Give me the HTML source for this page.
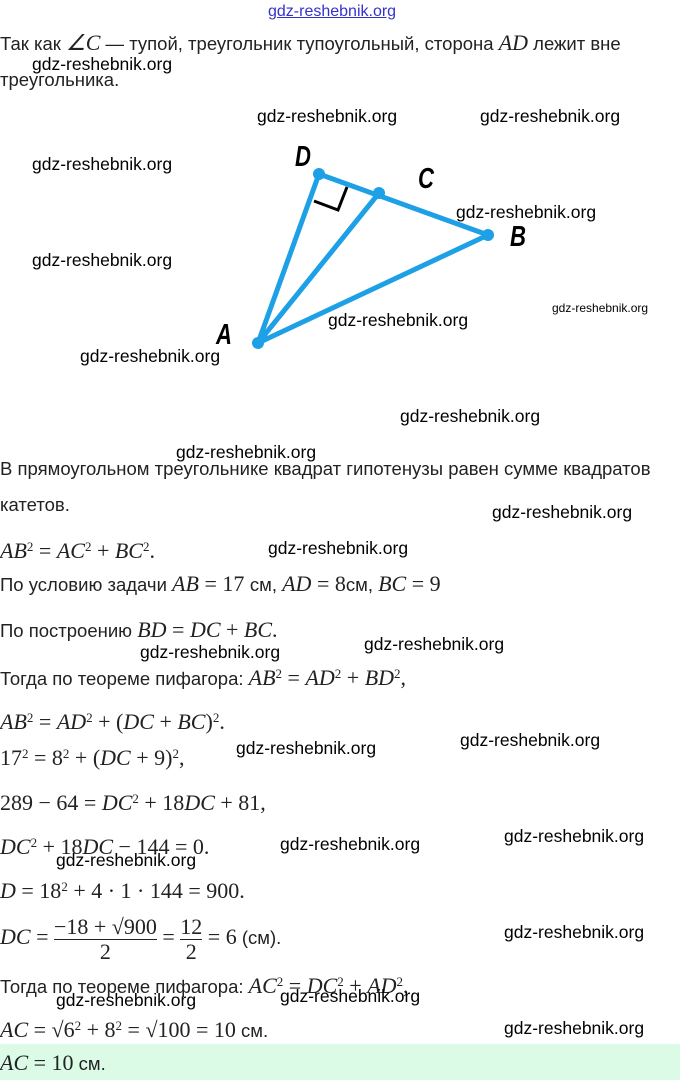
<!DOCTYPE html>
<html><head><meta charset="utf-8"><style>
body{margin:0;width:680px;height:1080px;background:#fff;position:relative;overflow:hidden;font-family:"Liberation Sans",sans-serif;color:#222}
.t{position:absolute;left:0;font-size:18.5px;white-space:nowrap;line-height:22px}
.w{position:absolute;font-size:17.5px;color:#000;white-space:nowrap;line-height:20px}
i,.m{font-family:"Liberation Serif",serif;font-size:22px}
i{font-style:italic}
sup{font-size:13px;font-family:"Liberation Serif",serif}
.g{position:absolute;left:0;top:1044px;width:680px;height:36px;background:#dbfbe7}
.fr{display:inline-block;vertical-align:middle;text-align:center;font-family:"Liberation Serif",serif;font-size:22px}
.fr span{display:block;line-height:24px}
.fr span:first-child{border-bottom:1px solid #222}
</style></head><body>
<div class="w" style="left:268px;top:2px;color:#33c;font-size:16px;text-decoration:underline">gdz-reshebnik.org</div>
<div class="t" style="top:32px">Так как <i>∠C</i> — тупой, треугольник тупоугольный, сторона <i>AD</i> лежит вне</div>
<div class="w" style="left:32px;top:54px">gdz-reshebnik.org</div>
<div class="t" style="top:69px">треугольника.</div>
<div class="w" style="left:257px;top:106px">gdz-reshebnik.org</div>
<div class="w" style="left:480px;top:106px">gdz-reshebnik.org</div>
<div class="w" style="left:32px;top:154px">gdz-reshebnik.org</div>
<div class="w" style="left:32px;top:250px">gdz-reshebnik.org</div>
<svg style="position:absolute;left:0;top:0" width="680" height="400">
<g stroke="#1ea0e6" stroke-width="5" stroke-linecap="round">
<line x1="319" y1="174" x2="488" y2="235"/><line x1="319" y1="174" x2="258" y2="343"/>
<line x1="379" y1="193" x2="258" y2="343"/><line x1="488" y1="235" x2="258" y2="343"/>
</g>
<g fill="#1ea0e6"><circle cx="319" cy="174" r="6"/><circle cx="379" cy="193" r="6"/><circle cx="488" cy="235" r="6"/><circle cx="258" cy="343" r="6"/></g>
<polyline points="314,201 338,210 347,187" fill="none" stroke="#000" stroke-width="3"/>
<g font-family="Liberation Sans" font-style="italic" font-weight="bold" font-size="26" fill="#000">
<text x="295" y="166" transform="translate(295 166) scale(0.85 1.1) translate(-295 -166)">D</text>
<text x="418" y="188" transform="translate(418 188) scale(0.85 1.1) translate(-418 -188)">C</text>
<text x="510" y="246" transform="translate(510 246) scale(0.85 1.1) translate(-510 -246)">B</text>
<text x="216" y="344" transform="translate(216 344) scale(0.85 1.1) translate(-216 -344)">A</text></g>
</svg>
<div class="w" style="left:456px;top:202px">gdz-reshebnik.org</div>
<div class="w" style="left:552px;top:298px;font-size:12px">gdz-reshebnik.org</div>
<div class="w" style="left:328px;top:310px">gdz-reshebnik.org</div>
<div class="w" style="left:80px;top:346px">gdz-reshebnik.org</div>
<div class="w" style="left:400px;top:406px">gdz-reshebnik.org</div>
<div class="w" style="left:176px;top:442px">gdz-reshebnik.org</div>
<div class="t" style="top:458px">В прямоугольном треугольнике квадрат гипотенузы равен сумме квадратов</div>
<div class="t" style="top:494px">катетов.</div>
<div class="w" style="left:492px;top:502px">gdz-reshebnik.org</div>
<div class="t" style="top:536px"><i>AB</i><sup>2</sup><span class="m"> = </span><i>AC</i><sup>2</sup><span class="m"> + </span><i>BC</i><sup>2</sup><span class="m">.</span></div>
<div class="w" style="left:268px;top:538px">gdz-reshebnik.org</div>
<div class="t" style="top:573px">По условию задачи <i>AB</i><span class="m"> = 17 </span>см, <i>AD</i><span class="m"> = 8</span>см, <i>BC</i><span class="m"> = 9</span></div>
<div class="t" style="top:619px">По построению <i>BD</i><span class="m"> = </span><i>DC</i><span class="m"> + </span><i>BC</i><span class="m">.</span></div>
<div class="w" style="left:364px;top:634px">gdz-reshebnik.org</div>
<div class="w" style="left:140px;top:642px">gdz-reshebnik.org</div>
<div class="t" style="top:663px">Тогда по теореме пифагора: <i>AB</i><sup>2</sup><span class="m"> = </span><i>AD</i><sup>2</sup><span class="m"> + </span><i>BD</i><sup>2</sup><span class="m">,</span></div>
<div class="t" style="top:707px"><i>AB</i><sup>2</sup><span class="m"> = </span><i>AD</i><sup>2</sup><span class="m"> + (</span><i>DC</i><span class="m"> + </span><i>BC</i><span class="m">)</span><sup>2</sup><span class="m">.</span></div>
<div class="t" style="top:743px"><span class="m">17</span><sup>2</sup><span class="m"> = 8</span><sup>2</sup><span class="m"> + (</span><i>DC</i><span class="m"> + 9)</span><sup>2</sup><span class="m">,</span></div>
<div class="w" style="left:236px;top:738px">gdz-reshebnik.org</div>
<div class="w" style="left:460px;top:730px">gdz-reshebnik.org</div>
<div class="t" style="top:788px"><span class="m">289 − 64 = </span><i>DC</i><sup>2</sup><span class="m"> + 18</span><i>DC</i><span class="m"> + 81,</span></div>
<div class="t" style="top:832px"><i>DC</i><sup>2</sup><span class="m"> + 18</span><i>DC</i><span class="m"> − 144 = 0.</span></div>
<div class="w" style="left:280px;top:834px">gdz-reshebnik.org</div>
<div class="w" style="left:504px;top:826px">gdz-reshebnik.org</div>
<div class="w" style="left:56px;top:850px">gdz-reshebnik.org</div>
<div class="t" style="top:876px"><i>D</i><span class="m"> = 18</span><sup>2</sup><span class="m"> + 4 · 1 · 144 = 900.</span></div>
<div class="t" style="top:912px;line-height:50px"><i>DC</i><span class="m"> = </span><span class="fr"><span>−18 + √900</span><span>2</span></span><span class="m"> = </span><span class="fr"><span>12</span><span>2</span></span><span class="m"> = 6</span> (см).</div>
<div class="w" style="left:504px;top:922px">gdz-reshebnik.org</div>
<div class="t" style="top:971px">Тогда по теореме пифагора: <i>AC</i><sup>2</sup><span class="m"> = </span><i>DC</i><sup>2</sup><span class="m"> + </span><i>AD</i><sup>2</sup><span class="m">,</span></div>
<div class="w" style="left:56px;top:990px">gdz-reshebnik.org</div>
<div class="w" style="left:280px;top:986px">gdz-reshebnik.org</div>
<div class="t" style="top:1015px"><i>AC</i><span class="m"> = √6</span><sup>2</sup><span class="m"> + 8</span><sup>2</sup><span class="m"> = √100 = 10</span> см.</div>
<div class="w" style="left:504px;top:1018px">gdz-reshebnik.org</div>
<div class="g"></div>
<div class="t" style="top:1052px"><i>AC</i><span class="m"> = 10</span> см.</div>
</body></html>
